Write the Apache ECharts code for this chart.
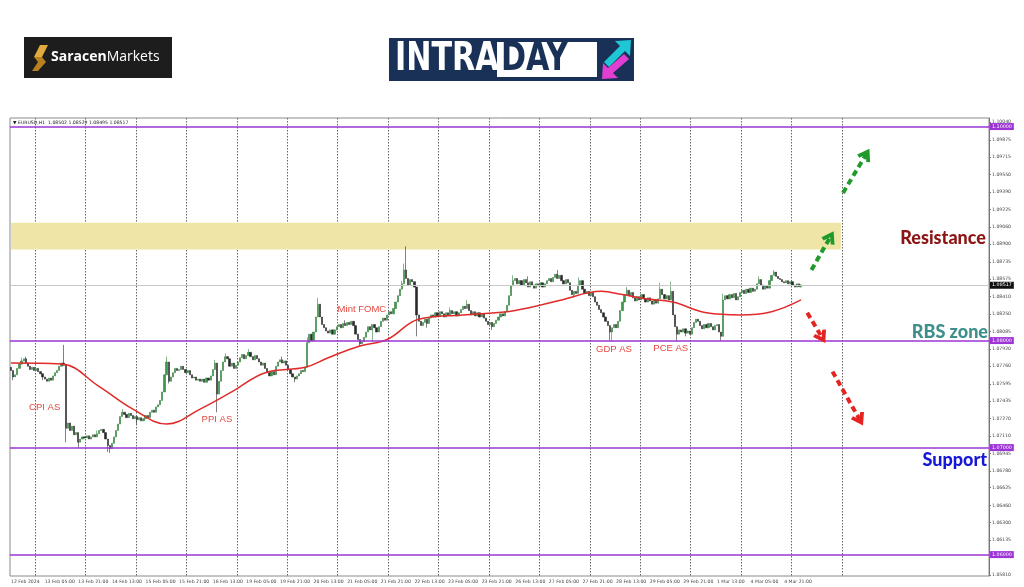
<!DOCTYPE html>
<html><head><meta charset="utf-8">
<script src="https://cdn.jsdelivr.net/npm/echarts@6/dist/echarts.min.js"></script>
<style>html,body{margin:0;padding:0;background:#fff}#c{width:1024px;height:587px}</style>
</head><body><div id="c"></div>
<script>
// ---------- DATA ----------
const xLabels = ["12 Feb 2024","13 Feb 05:00","13 Feb 21:00","14 Feb 13:00","15 Feb 05:00","15 Feb 21:00","16 Feb 13:00","19 Feb 05:00","19 Feb 21:00","20 Feb 13:00","21 Feb 05:00","21 Feb 21:00","22 Feb 13:00","23 Feb 05:00","23 Feb 21:00","26 Feb 13:00","27 Feb 05:00","27 Feb 21:00","28 Feb 13:00","29 Feb 05:00","29 Feb 21:00","1 Mar 13:00","4 Mar 05:00","4 Mar 21:00"];
const yTicks = [1.05810,1.05975,1.06135,1.06300,1.06460,1.06625,1.06780,1.06945,1.07110,1.07270,1.07435,1.07595,1.07760,1.07920,1.08085,1.08250,1.08410,1.08575,1.08735,1.08900,1.09060,1.09225,1.09390,1.09550,1.09715,1.09875,1.10040];
const firstOpen = 1.0775;
// hourly closes, EURUSD H1, 12 Feb 13:00 -> 5 Mar 05:00
const closes = [
1.0772,1.0766,1.0768,1.0774,1.0778,1.0781,1.0783,1.0779,1.0776,1.0773,1.0775,1.0772,1.0774,1.0771,1.0769,1.0766,
1.0764,1.0762,1.0765,1.0763,1.0767,1.0770,1.0772,1.0776,1.0779,1.0777,1.0718,1.0723,1.0716,1.0720,1.0712,1.0714,
1.0705,1.0708,1.0710,1.0709,1.0711,1.0708,1.0710,1.0712,1.0710,1.0713,1.0716,1.0717,1.0714,1.0708,1.0702,1.0699,
1.0704,1.0710,1.0716,1.0722,1.0729,1.0733,1.0731,1.0728,1.0732,1.0730,1.0727,1.0729,1.0726,1.0728,1.0725,1.0727,
1.0730,1.0728,1.0733,1.0735,1.0733,1.0738,1.0740,1.0744,1.0752,1.0768,1.0780,1.0762,1.0766,1.0770,1.0774,1.0772,
1.0773,1.0776,1.0773,1.0770,1.0772,1.0768,1.0765,1.0766,1.0763,1.0764,1.0762,1.0764,1.0761,1.0765,1.0763,1.0767,
1.0773,1.0779,1.0750,1.0762,1.0772,1.0780,1.0785,1.0783,1.0776,1.0779,1.0774,1.0777,1.0780,1.0784,1.0787,1.0783,
1.0786,1.0789,1.0785,1.0782,1.0786,1.0783,1.0780,1.0777,1.0779,1.0774,1.0770,1.0767,1.0771,1.0768,1.0776,1.0780,
1.0782,1.0779,1.0781,1.0777,1.0773,1.0769,1.0766,1.0764,1.0767,1.0769,1.0772,1.0771,1.0775,1.0798,1.0806,1.0800,
1.0808,1.0822,1.0834,1.0822,1.0815,1.0812,1.0809,1.0807,1.0810,1.0806,1.0810,1.0813,1.0815,1.0812,1.0816,1.0814,
1.0817,1.0815,1.0818,1.0814,1.0806,1.0801,1.0797,1.0799,1.0803,1.0808,1.0813,1.0810,1.0815,1.0812,1.0808,1.0813,
1.0818,1.0821,1.0819,1.0824,1.0827,1.0825,1.0830,1.0836,1.0842,1.0848,1.0853,1.0866,1.0858,1.0852,1.0857,1.0855,
1.0850,1.0824,1.0818,1.0814,1.0817,1.0820,1.0816,1.0821,1.0824,1.0822,1.0826,1.0823,1.0827,1.0825,1.0822,1.0826,
1.0824,1.0828,1.0825,1.0827,1.0823,1.0826,1.0829,1.0832,1.0830,1.0834,1.0828,1.0824,1.0827,1.0823,1.0826,1.0822,
1.0825,1.0821,1.0818,1.0815,1.0817,1.0813,1.0816,1.0819,1.0822,1.0825,1.0823,1.0827,1.0833,1.0842,1.0851,1.0856,
1.0858,1.0853,1.0856,1.0852,1.0857,1.0854,1.0850,1.0855,1.0852,1.0849,1.0853,1.0851,1.0854,1.0850,1.0853,1.0856,
1.0858,1.0855,1.0859,1.0862,1.0858,1.0861,1.0856,1.0853,1.0857,1.0854,1.0847,1.0843,1.0846,1.0844,1.0852,1.0856,
1.0848,1.0844,1.0846,1.0842,1.0845,1.0841,1.0836,1.0833,1.0829,1.0826,1.0822,1.0818,1.0814,1.0808,1.0812,1.0815,
1.0812,1.0818,1.0828,1.0836,1.0843,1.0847,1.0842,1.0845,1.0840,1.0837,1.0841,1.0838,1.0843,1.0839,1.0836,1.0840,
1.0837,1.0834,1.0838,1.0835,1.0839,1.0848,1.0843,1.0839,1.0842,1.0838,1.0846,1.0824,1.0813,1.0806,1.0810,1.0808,
1.0811,1.0807,1.0809,1.0806,1.0812,1.0817,1.0820,1.0818,1.0814,1.0811,1.0815,1.0812,1.0816,1.0813,1.0810,1.0814,
1.0815,1.0808,1.0804,1.0838,1.0842,1.0839,1.0843,1.0840,1.0844,1.0838,1.0841,1.0845,1.0847,1.0844,1.0848,1.0845,
1.0849,1.0846,1.0848,1.0853,1.0857,1.0852,1.0848,1.0851,1.0849,1.0856,1.0861,1.0864,1.0860,1.0858,1.0857,1.0855,
1.0854,1.0856,1.0853,1.0855,1.0852,1.0850,1.0853,1.08502,1.08517
];
// wick extremes (bar index -> price)
const highs = {5:1.0784,7:1.0785,25:1.0796,41:1.0716,53:1.0736,74:1.0785,97:1.0782,102:1.0788,113:1.0792,129:1.0785,141:1.0803,146:1.0840,159:1.0819,186:1.0856,187:1.0872,188:1.0888,209:1.0831,217:1.0838,239:1.0861,246:1.0860,260:1.0866,270:1.0859,293:1.0850,309:1.0854,314:1.0855,339:1.0844,356:1.0860,363:1.0866,376:1.08529};
const lows = {1:1.0763,15:1.0763,26:1.0705,32:1.0700,46:1.0696,47:1.0695,60:1.0722,75:1.0760,98:1.0733,135:1.0761,166:1.0794,172:1.0799,193:1.0804,198:1.0812,229:1.0810,268:1.0840,285:1.0800,286:1.0799,317:1.0799,321:1.0804,338:1.0800,376:1.08495};
// red moving average, read at bar indices
const maIdx = [0,24,42,58,74,90,105,121,140,151,166,179,194,215,236,247,262,281,291,302,315,331,347,362,376];
const maVal = [1.0779,1.0778,1.0757,1.0736,1.0722,1.0736,1.0752,1.0770,1.0775,1.0784,1.0795,1.0801,1.0820,1.0824,1.0827,1.0831,1.0838,1.0846,1.0843,1.0839,1.0836,1.0826,1.0824,1.0827,1.0838];
const levels = [1.10000,1.08000,1.07000,1.06000];
const lastPrice = 1.08517;
const resistance = [1.0885,1.0910];
const events = [{name:'CPI AS',bar:16,price:1.0738},{name:'PPI AS',bar:98,price:1.0726},{name:'Mint FOMC',bar:167,price:1.0829},{name:'GDP AS',bar:287,price:1.0792},{name:'PCE AS',bar:314,price:1.0793}];
const arrowsUp = [[[396,1.0938],[407,1.0974]],[[381,1.0866],[390,1.0897]]];
const arrowsDown = [[[379,1.0826],[386,1.0803]],[[391,1.0771],[404,1.0726]]];
const totalBars = 466;

// ---------- BUILD ----------
const cats = Array.from({length: totalBars}, (_, i) => String(i));
const candles = closes.map((c, i) => {
  const o = i === 0 ? firstOpen : closes[i - 1];
  const hi = highs[i] !== undefined ? highs[i] : Math.max(o, c);
  const lo = lows[i] !== undefined ? lows[i] : Math.min(o, c);
  return [o, c, lo, hi];
});
const maData = new Array(closes.length).fill(null);
maIdx.forEach((b, k) => { maData[b] = maVal[k]; });

const purple = '#9d35d6';
const chevron = 'path://M10,0 L20,13 L15.5,15 L10,8 L4.5,15 L0,13 Z';
const chart = echarts.init(document.getElementById('c'), null, {renderer: 'canvas'});
const arrowLine = (pairs, color) => pairs.map(p => [
  {coord: p[0], lineStyle: {color: color}, itemStyle: {color: color}},
  {coord: p[1], itemStyle: {color: color}}
]);
const tagLabel = (bg) => ({show: true, position: 'end', formatter: (p) => Number(p.value).toFixed(5), backgroundColor: bg, color: '#fff', fontSize: 4.8, padding: [1, 2], distance: 1, fontFamily: 'DejaVu Sans'});

chart.setOption({
  animation: false,
  backgroundColor: '#ffffff',
  grid: {left: 10, right: 35, top: 118, bottom: 11, show: true, borderColor: '#8a8a8a', borderWidth: 1},
  xAxis: {
    type: 'category', data: cats, boundaryGap: true,
    axisLine: {show: false}, axisTick: {show: false},
    axisLabel: {
      interval: (i) => i % 16 === 0 && i / 16 < xLabels.length,
      formatter: (v, i) => xLabels[Math.round(i / 16)] || '',
      fontSize: 4.6, color: '#444', align: 'left', margin: 3, fontFamily: 'DejaVu Sans'
    },
    splitLine: {show: true, interval: (i) => i >= 12 && (i - 12) % 24 === 0 && i <= 396,
      lineStyle: {type: [1.5, 1.5], color: '#666', width: 1}}
  },
  yAxis: {
    type: 'value', position: 'right', min: 1.0580, max: 1.1008, scale: true,
    axisLine: {show: true, lineStyle: {color: '#777'}},
    axisTick: {show: true, customValues: yTicks, length: 2, lineStyle: {color: '#777'}},
    axisLabel: {customValues: yTicks, formatter: (v) => v.toFixed(5), fontSize: 4.6, color: '#444', margin: 3, fontFamily: 'DejaVu Sans'},
    splitLine: {show: false}
  },
  series: [
    {
      name: 'zone', type: 'line', data: [], z: 1,
      markArea: {silent: true, itemStyle: {color: '#efe5a6'},
        data: [[{xAxis: 0, yAxis: resistance[0]}, {xAxis: 395, yAxis: resistance[1]}]]}
    },
    {
      name: 'levels', type: 'line', data: [], z: 2,
      markLine: {
        silent: true, symbol: ['none', 'none'], precision: 5,
        data: [{yAxis: lastPrice, lineStyle: {color: '#c9c9c9', width: 1, type: 'solid'}, label: tagLabel('#111')}]
          .concat(levels.map(v => ({yAxis: v, lineStyle: {color: purple, width: 1.6, type: 'solid'}, label: tagLabel(purple)})))
      }
    },
    {
      name: 'EURUSD', type: 'candlestick', data: candles, barWidth: 1.7, z: 3,
      itemStyle: {color: '#3e9a4b', color0: '#2b2b2b', borderColor: '#357f40', borderColor0: '#2b2b2b', borderWidth: 0.6}
    },
    {
      name: 'MA', type: 'line', data: maData, connectNulls: true, smooth: 0.4, showSymbol: false, z: 4,
      lineStyle: {color: '#e12b2b', width: 1.5},
      markPoint: {
        silent: true, symbol: 'circle', symbolSize: 0,
        data: events.map(e => ({name: e.name, coord: [e.bar, e.price]})),
        label: {show: true, position: 'inside', formatter: (p) => p.name, color: '#e5483f', fontSize: 9.5, fontFamily: 'Liberation Sans'}
      }
    },
    {
      name: 'arrows', type: 'line', data: [], z: 5,
      markLine: {
        silent: true, symbol: ['none', chevron], symbolSize: [15, 13], precision: 5,
        lineStyle: {width: 4, type: [6, 4]}, label: {show: false},
        data: arrowLine(arrowsUp, '#1f9a2b').concat(arrowLine(arrowsDown, '#e52320'))
      }
    }
  ],
  graphic: [
    {type: 'text', left: 13, top: 120, style: {text: '\u25BC EURUSD,H1  1.08502 1.08529 1.08495 1.08517', fontSize: 4.6, fill: '#222', fontFamily: 'DejaVu Sans'}},
    // SaracenMarkets logo
    {type: 'rect', shape: {x: 24, y: 37, width: 148, height: 41}, style: {fill: '#1d1d1d'}},
    {type: 'polygon', shape: {points: [[40, 45], [48, 45], [42, 57], [34, 57]]}, style: {fill: '#e0aa3e'}},
    {type: 'polygon', shape: {points: [[34, 57], [42, 57], [46, 62], [38, 71], [32, 71], [38, 62]]}, style: {fill: '#b8801f'}},
    {type: 'text', x: 51, y: 57, style: {text: '{b|Saracen}{n|Markets}', verticalAlign: 'middle',
      rich: {b: {fontSize: 14, fontWeight: 'bold', fill: '#fff', fontFamily: 'Open Sans'}, n: {fontSize: 14, fill: '#fff', fontFamily: 'Open Sans'}}}},
    // INTRADAY logo
    {type: 'rect', shape: {x: 389, y: 38, width: 245, height: 43}, style: {fill: '#1a3157'}},
    {type: 'text', x: 395, y: 60, scaleX: 0.86, style: {text: 'INTRA', verticalAlign: 'middle', fontSize: 39, fontWeight: 'bold', fill: '#fff', fontFamily: 'DejaVu Sans Condensed'}},
    {type: 'rect', shape: {x: 497, y: 42, width: 100, height: 35}, style: {fill: '#fff'}},
    {type: 'text', x: 501, y: 60, scaleX: 0.86, style: {text: 'DAY', verticalAlign: 'middle', fontSize: 39, fontWeight: 'bold', fill: '#1a3157', fontFamily: 'DejaVu Sans Condensed'}},
    {type: 'polygon', shape: {points: [[631, 40], [630, 56], [625, 51], [609, 67], [604, 62], [620, 46], [615, 41]]}, style: {fill: '#1fc6d3'}},
    {type: 'polygon', shape: {points: [[602, 79], [603, 63], [608, 68], [624, 54], [629, 59], [613, 73], [618, 78]]}, style: {fill: '#e23fd2'}},
    // zone labels
    {type: 'text', x: 986, y: 238, style: {text: 'Resistance', align: 'right', verticalAlign: 'middle', fontSize: 18, fontWeight: 900, fill: '#8c1414', fontFamily: 'Lato'}},
    {type: 'text', x: 988, y: 332, style: {text: 'RBS zone', align: 'right', verticalAlign: 'middle', fontSize: 18, fontWeight: 900, fill: '#3e8f8c', fontFamily: 'Lato'}},
    {type: 'text', x: 987, y: 460, style: {text: 'Support', align: 'right', verticalAlign: 'middle', fontSize: 18, fontWeight: 900, fill: '#1717d8', fontFamily: 'Lato'}}
  ]
});
</script></body></html>
